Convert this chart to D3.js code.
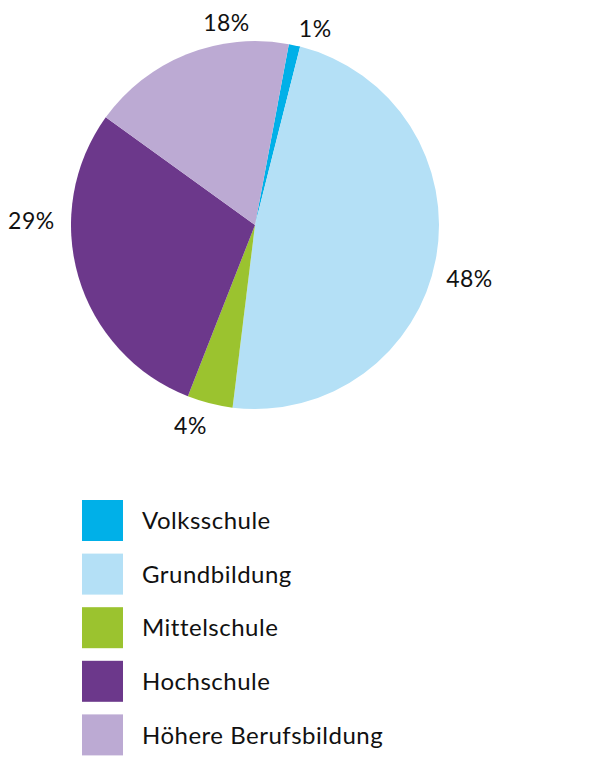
<!DOCTYPE html>
<html>
<head>
<meta charset="utf-8">
<script src="https://cdn.jsdelivr.net/npm/d3@7"></script>
<style>
  body { margin: 0; background: #fff; }
  text { font-family: Lato, "Open Sans", sans-serif; fill: #111; }
</style>
</head>
<body>
<svg id="chart" width="600" height="761"></svg>
<script>
// data
var categories = ["Volksschule", "Grundbildung", "Mittelschule", "Hochschule", "Höhere Berufsbildung"];
var shares = [1, 48, 4, 29, 18];
var shareLabels = ["1%", "48%", "4%", "29%", "18%"];
var colors = ["#00b0e8", "#b4e0f6", "#9bc32f", "#6c388b", "#bcaad3"];

// label nudges (px) from the slice mid point, like excel's best fit
var labelNudge = [[16, 5], [12, 16], [-14, 1], [-26, -62], [48, -11]];

var svg = d3.select("#chart");
var cx = 255, cy = 225, radius = 184;
var startDeg = 10.6;   // first slice does not start at 12 o'clock
var labelR = radius + 22;

var pie = d3.pie()
    .sort(null)
    .startAngle(startDeg * Math.PI / 180)
    .endAngle((startDeg + 360) * Math.PI / 180);

var arcs = pie(shares);

var arc = d3.arc().innerRadius(0).outerRadius(radius);

var g = svg.append("g").attr("transform", "translate(" + cx + "," + cy + ")");

g.selectAll("path")
    .data(arcs)
    .enter()
    .append("path")
    .attr("d", arc)
    .attr("fill", function(d, i) { return colors[i]; });

// outer labels, placed at the mid angle then nudged
g.selectAll("text.lbl")
    .data(arcs)
    .enter()
    .append("text")
    .attr("class", "lbl")
    .attr("x", function(d, i) {
        var a = (d.startAngle + d.endAngle) / 2;
        return labelR * Math.sin(a) + labelNudge[i][0];
    })
    .attr("y", function(d, i) {
        var a = (d.startAngle + d.endAngle) / 2;
        return -labelR * Math.cos(a) + labelNudge[i][1];
    })
    .attr("dy", "0.36em")
    .attr("text-anchor", "middle")
    .attr("font-size", "23px")
    .attr("letter-spacing", "0.5px")
    .text(function(d, i) { return shareLabels[i]; });

// legend
var legY = d3.scaleBand()
    .domain(categories)
    .range([500, 768])
    .paddingInner(0);

var leg = svg.append("g").attr("class", "legend")
    .selectAll("g")
    .data(categories)
    .enter()
    .append("g")
    .attr("transform", function(d) { return "translate(82," + legY(d) + ")"; });

leg.append("rect")
    .attr("width", 41)
    .attr("height", 41)
    .attr("fill", function(d, i) { return colors[i]; });

leg.append("text")
    .attr("x", 60)
    .attr("y", 20.5)
    .attr("dy", "0.36em")
    .attr("font-size", "24px")
    .attr("letter-spacing", "0.5px")
    .text(function(d) { return d; });
</script>
</body>
</html>
